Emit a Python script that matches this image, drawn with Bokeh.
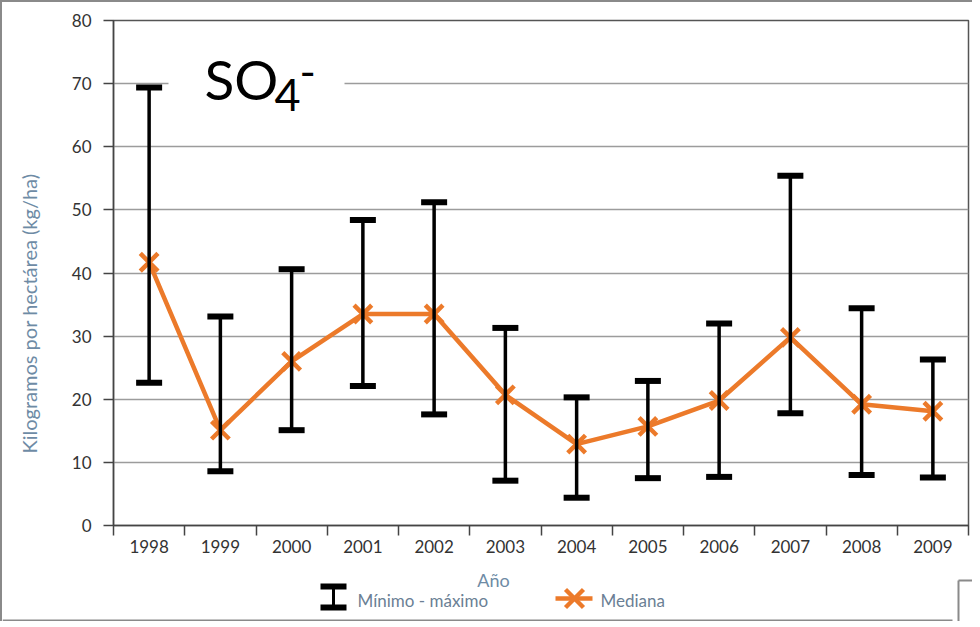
import math
from bokeh.plotting import figure
from bokeh.layouts import column, row
from bokeh.models import (ColumnDataSource, Whisker, TeeHead, Label, BoxAnnotation,
                          FixedTicker, Range1d)
from bokeh.core.properties import value
from bokeh.embed import file_html
from bokeh.resources import INLINE

# ---- data ----
years = ["1998", "1999", "2000", "2001", "2002", "2003",
         "2004", "2005", "2006", "2007", "2008", "2009"]
minimo = [22.6, 8.6, 15.1, 22.1, 17.6, 7.1, 4.4, 7.5, 7.7, 17.8, 8.0, 7.6]
maximo = [69.4, 33.1, 40.6, 48.4, 51.2, 31.3, 20.3, 22.9, 32.0, 55.4, 34.4, 26.3]
mediana = [41.7, 15.1, 26.0, 33.5, 33.5, 20.7, 12.9, 15.7, 19.8, 29.8, 19.2, 18.1]
y_ticks = [0, 10, 20, 30, 40, 50, 60, 70, 80]

ORANGE = "#EC7A2A"
BLUEGRAY = "#6E8BA5"
LEGTEXT = "#6B7F95"
BORDER = "#8a8a8a"
FONT = "Lato"

B = 2                      # outer page border thickness
MAIN_W, MAIN_H = 922, 560  # main chart canvas
LEFT_W = 48                # strip holding the y-axis title
BOT_H = 59                 # strip holding x title and legend


def blank(width, height, x0, x1, y_top, y_bot):
    f = figure(width=width, height=height, x_range=Range1d(x0, x1),
               y_range=Range1d(y_bot, y_top), min_border=0,
               x_axis_location=None, y_axis_location=None,
               output_backend="svg", toolbar_location=None)
    f.xgrid.visible = False
    f.ygrid.visible = False
    f.outline_line_color = None
    f.background_fill_color = "white"
    f.border_fill_color = "white"
    return f


# ---- main chart ----
centers = [i + 0.5 for i in range(len(years))]
bounds = [float(i) for i in range(len(years) + 1)]
src = ColumnDataSource(dict(x=centers, lo=minimo, hi=maximo, med=mediana))

p = figure(width=MAIN_W, height=MAIN_H, x_range=Range1d(0, len(years)), y_range=Range1d(0, 80),
           output_backend="svg", toolbar_location=None,
           min_border_left=63, min_border_right=4, min_border_top=18, min_border_bottom=37)
p.background_fill_color = "white"
p.border_fill_color = "white"
p.outline_line_color = "#555555"
p.outline_line_width = 1.5

p.xgrid.visible = False
p.ygrid.ticker = FixedTicker(ticks=y_ticks)
p.ygrid.grid_line_color = "#9c9c9c"
p.ygrid.grid_line_width = 1.5

p.yaxis.ticker = FixedTicker(ticks=y_ticks)
p.yaxis.major_tick_out = 10
p.yaxis.major_tick_in = 0
p.yaxis.minor_tick_line_color = None
p.yaxis.major_tick_line_color = "#444444"
p.yaxis.major_tick_line_width = 1.5
p.yaxis.axis_line_color = "#444444"
p.yaxis.axis_line_width = 1.5
p.yaxis.major_label_standoff = 12
p.yaxis.major_label_text_font = FONT
p.yaxis.major_label_text_font_size = "17px"
p.yaxis.major_label_text_color = "#333333"

p.xaxis.ticker = FixedTicker(ticks=centers, minor_ticks=bounds)
p.xaxis.major_label_overrides = {c: y for c, y in zip(centers, years)}
p.xaxis.major_tick_out = 0
p.xaxis.major_tick_in = 0
p.xaxis.minor_tick_out = 10
p.xaxis.minor_tick_in = 0
p.xaxis.minor_tick_line_color = "#444444"
p.xaxis.minor_tick_line_width = 1.5
p.xaxis.axis_line_color = "#444444"
p.xaxis.axis_line_width = 1.5
p.xaxis.major_label_standoff = 4
p.xaxis.major_label_text_font = FONT
p.xaxis.major_label_text_font_size = "17px"
p.xaxis.major_label_text_color = "#333333"

# white box behind the title
p.add_layout(BoxAnnotation(left=55, right=231, bottom=405, top=485,
                           left_units="screen", right_units="screen",
                           bottom_units="screen", top_units="screen",
                           fill_color="white", fill_alpha=1.0, line_color=None))

p.line("x", "med", source=src, line_color=ORANGE, line_width=4.5)
p.scatter("x", "med", source=src, marker="x", size=25, line_color=ORANGE, line_width=4.5)

head = dict(size=26, line_width=6, line_color="black")
p.add_layout(Whisker(base="x", lower="lo", upper="hi", source=src,
                     line_color="black", line_width=3.5, level="overlay",
                     lower_head=TeeHead(**head), upper_head=TeeHead(**head)))

# title SO4-
p.add_layout(Label(x=91, y=447, x_units="screen", y_units="screen", text="SO",
                   text_font=FONT, text_font_size="55px", text_color="black",
                   text_baseline="middle"))
p.add_layout(Label(x=161, y=431, x_units="screen", y_units="screen", text="4",
                   text_font=FONT, text_font_size="45px", text_color="black",
                   text_baseline="middle"))
p.add_layout(Label(x=186, y=454, x_units="screen", y_units="screen", text="-",
                   text_font=FONT, text_font_size="44px", text_color="black",
                   text_baseline="middle"))

# ---- left strip: y axis title (frame aligned with the main frame: 20..525) ----
pL = blank(LEFT_W, MAIN_H, B, B + LEFT_W, 20, 525)
pL.text(x=[28], y=[313], text=["Kilogramos por hectárea (kg/ha)"], angle=math.pi / 2,
        text_align="center", text_baseline="middle", text_font=value(FONT),
        text_font_size="20px", text_color=BLUEGRAY)

# ---- bottom strip: x title, legend, page border pieces ----
y0b = B + MAIN_H
pB = blank(LEFT_W + MAIN_W, BOT_H, B, B + LEFT_W + MAIN_W, y0b, y0b + BOT_H)
pB.segment(x0=[B, 958, 958], y0=[620, 580, 580], x1=[952, 958, 975], y1=[620, 625, 580],
           line_color=BORDER, line_width=2)
pB.text(x=[493], y=[579], text=["Año"], text_align="center", text_baseline="middle",
        text_font=value(FONT), text_font_size="18px", text_color=BLUEGRAY)
# min-max icon
pB.quad(left=[320, 320, 331.5], right=[346, 346, 334.5], top=[583, 604, 586], bottom=[589, 610, 607],
        fill_color="black", line_color=None)
pB.text(x=[357], y=[600], text=["Mínimo - máximo"], text_align="left", text_baseline="middle",
        text_font=value(FONT), text_font_size="17px", text_color=LEGTEXT)
# mediana icon
pB.segment(x0=[555, 565, 565], y0=[598, 589, 607], x1=[592, 583, 583], y1=[598, 607, 589],
           line_color=ORANGE, line_width=4.5)
pB.text(x=[600], y=[600], text=["Mediana"], text_align="left", text_baseline="middle",
        text_font=value(FONT), text_font_size="17px", text_color=LEGTEXT)

layout = column(row(pL, p, spacing=0), pB, spacing=0,
                styles={"border-left": f"{B}px solid {BORDER}",
                        "border-top": f"{B}px solid {BORDER}"})
open("out.html", "w").write(file_html(layout, INLINE))
